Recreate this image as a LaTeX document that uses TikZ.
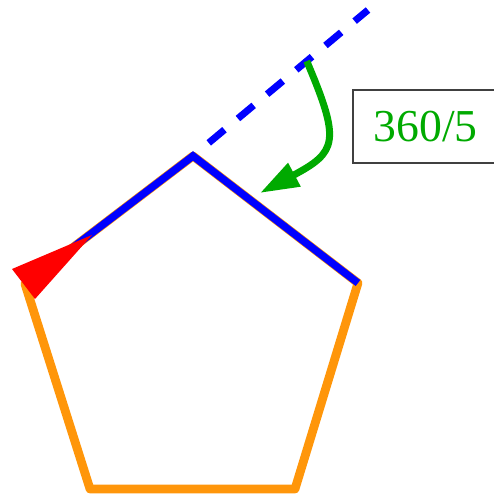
\documentclass[tikz,border=0pt]{standalone}
\usepackage{fontspec}
\setmainfont{Liberation Serif}
\usepackage{xcolor}
\usetikzlibrary{arrows.meta, calc}
\definecolor{edgeorange}{RGB}{255,150,10}
\definecolor{turngreen}{RGB}{0,170,0}

\begin{document}
\begin{tikzpicture}[
    side/.style={draw=edgeorange, line width=0.175cm, line join=round},
    walked/.style={draw=blue, line width=0.15cm, line join=miter},
    heading/.style={draw=blue, line width=0.14cm, dash pattern=on 0.41cm off 0.35cm, dash phase=0.35cm},
    turn/.style={draw=turngreen, line width=0.14cm, -{Triangle[length=0.78cm, width=0.5cm]}},
    anglebox/.style={draw=black!75, line width=0.6pt, minimum width=2.9cm, minimum height=1.46cm, inner sep=0pt, text=turngreen, font=\fontsize{26}{28}\selectfont}
]
\useasboundingbox (0,0) rectangle (9.88,9.88);
% Pentagon corners
\coordinate (left) at (0.50,4.20);
\coordinate (top) at (3.86,6.76);
\coordinate (right) at (7.16,4.22);
\coordinate (botright) at (5.90,0.10);
\coordinate (botleft) at (1.80,0.10);
\coordinate (ahead) at (7.36,9.68);
\coordinate (tip) at (5.20,6.02);
% Sides
\draw[side] (left) -- (top) -- (right) -- (botright) -- (botleft) -- cycle;
\draw[walked] (left) -- (top) -- (right);
% Heading and turn
\draw[heading] (top) -- (ahead);
\coordinate (astart) at ($(top)!0.65!(ahead)$);
\draw[turn] (astart) to[out=-67, in=28, looseness=1.6] (tip);
% Turtle
\fill[red] (0.24,4.50) -- (1.84,5.18) -- (0.70,3.90) -- cycle;
% Label
\node[anglebox] (angle) at (8.51,7.35) {360/5};
\end{tikzpicture}
\end{document}
